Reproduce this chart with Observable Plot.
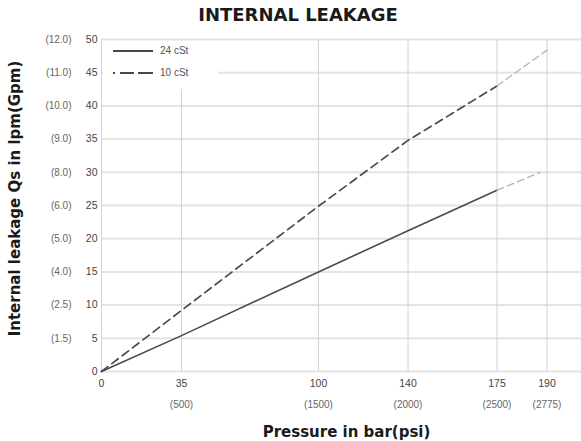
<!DOCTYPE html>
<html><head><meta charset="utf-8">
<script src="https://cdn.jsdelivr.net/npm/d3@7"></script>
<script src="https://cdn.jsdelivr.net/npm/@observablehq/plot@0.6"></script>
<style>
body{margin:0;background:#fff;}
#wrap{position:relative;width:581px;height:441px;overflow:hidden;}
#title{height:30px;line-height:30px;padding-top:4px;box-sizing:border-box;padding-left:15px;text-align:center;font:bold 18px "DejaVu Sans";color:#1a1a1a;}
#legend{position:absolute;left:103px;top:41px;width:115px;height:48px;background:#fff;font:10px "Liberation Sans";color:#555;}
#legend svg{position:absolute;left:0;top:0;}
#legend .lab{position:absolute;left:57px;line-height:12px;}
</style></head><body>
<div id="wrap"><div id="title">INTERNAL LEAKAGE</div><div id="chart"></div><div id="legend"></div></div>
<script>
// tick labels
const barTicks = [0, 35, 100, 140, 175, 190];
const psiTicks = ["", "500", "1500", "2000", "2500", "2775"];
const lpmTicks = [0, 5, 10, 15, 20, 25, 30, 35, 40, 45, 50];
const gpmTicks = ["", "1.5", "2.5", "4.0", "5.0", "6.0", "8.0", "9.0", "10.0", "11.0", "12.0"];
// series
const series = ["24 cSt", "10 cSt"];
const bar24 = [0, 35, 100, 140, 175, 188];
const lpm24 = [0, 5.4, 15.0, 21.2, 27.3, 30.0];
const bar10 = [0, 35, 100, 140, 175, 190];
const lpm10 = [0, 9.2, 24.9, 34.8, 43.0, 48.4];

const main24 = bar24.map((b, i) => ({x: b, y: lpm24[i]}));
const main10 = bar10.map((b, i) => ({x: b, y: lpm10[i]}));
const solidPart = main24.slice(0, 5), solidExt = main24.slice(4);
const dashPart = main10.slice(0, 5), dashExt = main10.slice(4);

const dark = "#4a4a4a", light = "#b4b4b4";

const chart = Plot.plot({
  width: 581,
  height: 411,
  marginLeft: 101,
  marginRight: 0,
  marginTop: 9,
  marginBottom: 70,
  style: {fontFamily: "Liberation Sans, Arial, sans-serif", fontSize: "10.5px", background: "#fff"},
  x: {type: "linear", domain: [0, 35, 100, 140, 175, 190], range: [101, 181, 318, 407.5, 496.5, 546.5]},
  y: {domain: [0, 50]},
  marks: [
    Plot.gridY(lpmTicks, {stroke: "#e4e4e4", strokeOpacity: 1, strokeWidth: 2}),
    Plot.gridX(barTicks, {stroke: "#d2d2d2", strokeOpacity: 1, strokeWidth: 1}),
    Plot.line(solidPart, {x: "x", y: "y", stroke: dark, strokeWidth: 1.6}),
    Plot.line(solidExt, {x: "x", y: "y", stroke: light, strokeWidth: 1.3, strokeDasharray: "7,4"}),
    Plot.line(dashPart, {x: "x", y: "y", stroke: dark, strokeWidth: 1.7, strokeDasharray: "8,5"}),
    Plot.line(dashExt, {x: "x", y: "y", stroke: light, strokeWidth: 1.3, strokeDasharray: "7,4"}),
    Plot.axisY(lpmTicks, {tickSize: 0, tickPadding: 4, fill: "#444", label: null, tickFormat: d => String(d)}),
    Plot.axisY(lpmTicks, {tickSize: 0, tickPadding: 30, fill: "#666", fontSize: 10, label: null,
      tickFormat: (d, i) => gpmTicks[i] ? `(${gpmTicks[i]})` : ""}),
    Plot.axisX(barTicks, {tickSize: 0, tickPadding: 8, fill: "#444", label: null, tickFormat: d => String(d)}),
    Plot.axisX(barTicks, {tickSize: 0, tickPadding: 29, fill: "#666", fontSize: 10, label: null,
      tickFormat: (d, i) => psiTicks[i] ? `(${psiTicks[i]})` : ""}),
    Plot.text(["Pressure in bar(psi)"], {frameAnchor: "bottom", dy: 61, dx: 5, fontFamily: "DejaVu Sans",
      fontWeight: "bold", fontSize: 15, fill: "#1a1a1a", lineAnchor: "middle"}),
    Plot.text(["Internal leakage Qs in lpm(Gpm)"], {frameAnchor: "left", dx: -86, dy: -7, rotate: -90,
      fontFamily: "DejaVu Sans", fontWeight: "bold", fontSize: 15, fill: "#1a1a1a", lineAnchor: "middle", textAnchor: "middle"})
  ]
});
document.getElementById("chart").appendChild(chart);

// legend
const leg = document.getElementById("legend");
const ns = "http://www.w3.org/2000/svg";
const sw = document.createElementNS(ns, "svg");
sw.setAttribute("width", 56); sw.setAttribute("height", 48);
const dashes = [null, "2,5,14,4,16"];
series.forEach((s, i) => {
  const yy = 10 + i * 22;
  const ln = document.createElementNS(ns, "line");
  ln.setAttribute("x1", 10); ln.setAttribute("x2", 50);
  ln.setAttribute("y1", yy); ln.setAttribute("y2", yy);
  ln.setAttribute("stroke", dark); ln.setAttribute("stroke-width", 1.8);
  if (dashes[i]) ln.setAttribute("stroke-dasharray", dashes[i]);
  sw.appendChild(ln);
  const t = document.createElement("div");
  t.className = "lab"; t.style.top = (yy - 6) + "px"; t.textContent = s;
  leg.appendChild(t);
});
leg.appendChild(sw);
</script>
</body></html>
